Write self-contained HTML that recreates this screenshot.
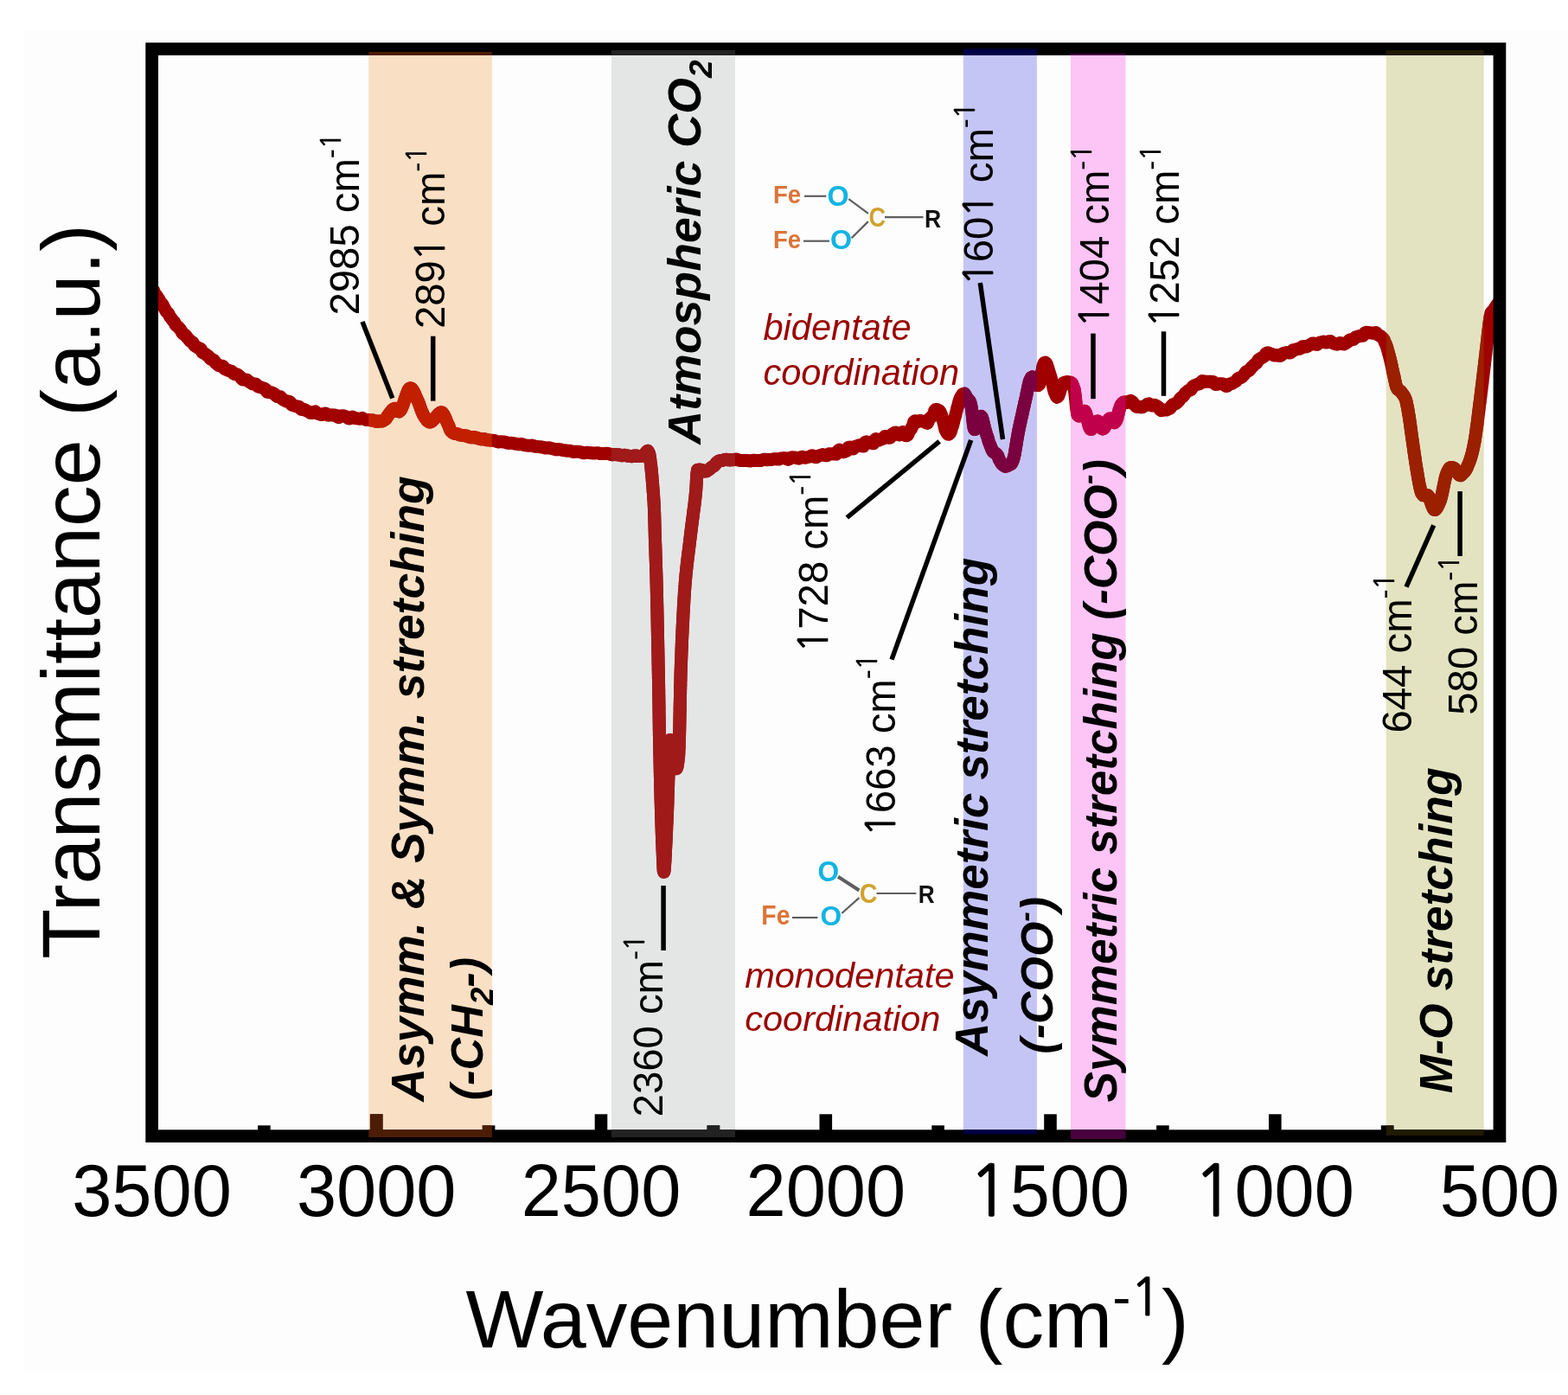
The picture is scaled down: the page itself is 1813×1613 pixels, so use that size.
<!DOCTYPE html>
<html><head><meta charset="utf-8"><style>
html,body{margin:0;padding:0;background:#fff;overflow:hidden;}
svg{display:block;}
.r{font-family:"Liberation Sans",Arial,sans-serif;fill:#000;}
.bi{font-family:"Liberation Sans",Arial,sans-serif;font-style:italic;font-weight:bold;fill:#000;}
.it{font-family:"Liberation Sans",Arial,sans-serif;font-style:italic;font-weight:normal;fill:#000;}
.ci{font-family:"Liberation Sans",Arial,sans-serif;font-style:italic;fill:#9a0000;}
.chem{font-family:"Liberation Sans",Arial,sans-serif;font-weight:bold;}
</style></head><body>
<svg width="1813" height="1613" viewBox="0 0 1813 1613">
<defs>
<clipPath id="cb0"><rect x="426.2" y="0" width="142.6" height="1613"/></clipPath>
<clipPath id="cb1"><rect x="707.0" y="0" width="143.0" height="1613"/></clipPath>
<clipPath id="cb2"><rect x="1113.8" y="0" width="85.1" height="1613"/></clipPath>
<clipPath id="cb3"><rect x="1238.0" y="0" width="63.5" height="1613"/></clipPath>
<clipPath id="cb4"><rect x="1602.7" y="0" width="113.0" height="1613"/></clipPath>
<clipPath id="plot"><rect x="176" y="50" width="1558" height="1270"/></clipPath>
<path id="crv" d="M171.8,328.1 L172.2,328.9 L172.8,329.8 L173.6,330.9 L174.4,332.0 L175.3,333.3 L176.5,334.5 L177.6,335.9 L178.2,337.6 L179.0,339.3 L180.1,340.7 L181.2,342.1 L182.1,343.6 L183.0,345.0 L183.9,346.2 L184.5,347.7 L185.2,349.1 L186.3,350.4 L187.5,351.5 L188.4,352.8 L189.1,354.3 L189.8,355.8 L190.6,357.2 L191.3,358.6 L192.1,359.9 L193.2,361.0 L194.3,362.0 L195.1,363.2 L195.8,364.8 L196.6,366.3 L197.6,367.5 L198.5,368.8 L199.4,370.1 L200.5,371.2 L201.5,372.2 L202.2,373.5 L202.7,375.0 L203.5,376.2 L204.7,377.1 L206.0,378.1 L207.1,379.2 L208.0,380.4 L209.0,381.6 L209.8,383.0 L210.4,384.5 L211.2,385.7 L212.6,386.5 L214.0,387.2 L215.0,388.2 L215.9,389.6 L216.9,390.8 L218.0,392.0 L218.9,393.2 L220.0,394.4 L221.5,395.1 L222.8,395.9 L223.6,397.2 L224.3,398.8 L225.4,400.0 L226.9,400.8 L228.3,401.7 L229.7,402.5 L231.3,403.1 L232.5,404.1 L233.2,405.8 L234.0,407.4 L235.4,408.3 L237.0,408.9 L238.3,409.9 L239.5,410.9 L240.9,411.9 L242.0,413.1 L242.9,414.5 L244.1,415.5 L245.9,415.9 L247.4,416.7 L248.3,418.1 L249.2,419.5 L250.4,420.6 L251.6,421.6 L252.8,422.6 L254.3,423.0 L256.3,422.9 L257.8,423.5 L258.7,425.1 L259.8,426.5 L261.2,427.1 L262.7,427.7 L264.2,428.4 L265.8,428.8 L267.4,429.1 L268.7,430.1 L269.7,431.7 L271.1,432.5 L272.9,432.6 L274.6,433.0 L275.8,434.1 L277.2,435.2 L278.4,436.3 L279.4,437.8 L280.7,439.0 L282.6,439.1 L284.5,438.9 L285.9,439.5 L287.1,440.7 L288.3,441.6 L289.7,442.3 L290.9,443.3 L292.3,444.0 L294.0,443.9 L295.8,444.0 L297.0,445.2 L298.0,446.7 L299.4,447.4 L301.1,447.7 L302.7,448.2 L304.2,448.8 L305.8,449.2 L307.1,450.2 L308.0,451.9 L309.0,453.4 L310.7,453.6 L312.6,453.5 L314.1,453.9 L315.5,454.7 L317.0,455.3 L318.2,456.2 L319.2,457.6 L320.5,458.6 L322.3,458.6 L324.1,458.8 L325.2,459.8 L326.1,461.0 L327.2,461.9 L328.5,462.6 L329.8,463.4 L331.4,464.1 L333.5,464.1 L335.5,464.8 L336.2,466.2 L337.0,467.7 L338.2,468.5 L339.7,468.8 L341.2,469.3 L342.8,469.8 L344.6,469.9 L346.2,470.5 L347.3,472.2 L348.5,473.5 L350.3,473.6 L352.1,473.6 L353.6,474.4 L355.0,475.2 L356.4,475.7 L357.8,476.6 L359.2,477.6 L360.9,477.5 L362.7,476.4 L364.4,475.9 L365.8,476.9 L367.2,478.1 L368.7,478.6 L370.2,479.1 L371.7,479.6 L373.3,479.2 L375.0,478.1 L376.6,477.9 L378.0,479.1 L379.4,480.2 L381.0,480.1 L382.7,479.8 L384.2,480.0 L385.8,480.1 L387.4,479.9 L388.9,480.5 L390.2,482.0 L391.7,482.7 L393.4,481.8 L395.1,480.7 L396.6,480.7 L398.1,481.2 L399.6,481.5 L401.1,482.3 L402.6,483.6 L404.2,484.0 L406.0,482.9 L407.7,482.1 L409.3,482.8 L410.8,483.6 L412.4,483.8 L414.0,483.9 L415.5,484.3 L417.1,484.0 L418.7,483.4 L420.0,484.2 L421.7,484.8 L423.3,485.5 L425.0,485.6 L426.6,485.6 L428.3,485.8 L429.8,485.9 L431.3,486.0 L432.7,486.4 L434.0,487.0 L435.3,487.4 L436.5,487.4 L438.7,487.0 L440.3,487.1 L441.8,487.0 L443.1,486.4 L444.8,485.4 L445.8,484.6 L446.8,483.4 L447.6,482.0 L448.6,480.5 L449.7,479.0 L450.8,477.5 L451.9,476.1 L452.9,474.8 L453.8,473.8 L454.7,473.0 L456.5,472.4 L458.1,473.8 L459.5,475.4 L461.2,476.0 L463.0,474.6 L463.5,473.8 L464.1,472.7 L464.7,471.4 L465.2,470.0 L465.9,468.4 L466.5,466.6 L467.1,464.8 L467.7,462.9 L468.3,461.0 L469.0,459.2 L469.6,457.3 L470.3,455.6 L470.9,454.0 L471.4,452.5 L472.0,451.2 L472.6,450.2 L473.2,449.4 L473.8,449.0 L474.7,448.8 L475.6,449.1 L476.4,449.9 L477.3,451.1 L478.2,452.6 L479.1,454.2 L479.9,456.0 L480.6,457.9 L481.4,459.8 L482.2,461.5 L482.9,463.0 L483.6,464.4 L484.3,466.0 L484.8,467.6 L485.4,469.2 L485.9,470.9 L486.5,472.5 L487.1,474.1 L487.7,475.6 L488.3,477.0 L488.9,478.4 L489.5,479.6 L490.5,481.4 L491.7,483.1 L492.8,484.6 L493.8,486.1 L495.0,487.3 L496.3,487.9 L497.8,487.9 L498.9,487.4 L500.0,486.4 L501.2,485.1 L502.6,483.7 L504.2,482.2 L505.5,480.6 L506.7,479.1 L508.0,478.0 L509.1,477.1 L510.2,476.7 L511.4,477.2 L512.2,478.3 L513.1,479.6 L513.9,481.1 L514.8,482.8 L515.5,484.7 L516.2,486.5 L516.9,488.1 L517.5,489.5 L518.3,491.1 L519.0,492.7 L519.5,494.2 L520.1,495.7 L520.6,497.1 L521.4,498.4 L522.5,499.5 L523.5,500.3 L524.5,500.9 L525.6,501.3 L526.8,501.5 L528.2,501.6 L529.7,502.1 L531.3,502.9 L533.4,503.2 L535.8,503.4 L536.9,503.7 L538.0,503.9 L539.2,504.1 L540.4,504.4 L541.6,504.9 L542.9,505.5 L544.2,505.8 L545.7,505.7 L547.2,505.5 L548.6,505.7 L550.1,506.1 L551.6,506.5 L553.2,506.9 L554.8,507.5 L556.4,507.8 L558.1,507.7 L559.9,507.7 L561.6,508.2 L563.4,508.7 L565.2,508.9 L567.0,509.1 L568.9,509.3 L570.2,509.3 L571.5,509.4 L572.8,509.8 L574.1,510.5 L575.5,510.9 L576.9,510.9 L578.3,510.8 L579.8,510.8 L581.3,510.9 L582.8,511.0 L584.3,511.2 L585.7,511.8 L587.2,512.3 L588.8,512.4 L590.4,512.2 L592.0,512.4 L593.5,512.7 L595.1,513.0 L596.7,513.2 L598.2,513.5 L599.8,513.8 L601.5,513.6 L603.1,513.5 L604.6,513.9 L606.2,514.6 L607.7,514.9 L609.3,515.1 L610.9,515.2 L612.5,515.3 L614.1,515.1 L615.6,515.1 L617.1,515.6 L618.6,516.2 L620.1,516.5 L621.6,516.4 L623.2,516.6 L624.7,516.8 L626.3,517.0 L627.9,517.2 L629.4,517.7 L631.0,518.1 L632.6,518.0 L634.3,517.8 L635.9,518.0 L637.4,518.4 L639.0,518.8 L640.5,519.2 L642.1,519.7 L643.7,519.9 L645.3,519.6 L646.9,519.5 L648.5,519.8 L649.9,520.4 L651.5,520.7 L653.0,520.8 L654.5,521.0 L656.0,521.2 L657.4,521.2 L658.9,521.2 L660.3,521.6 L661.6,522.2 L663.0,522.5 L664.3,522.4 L665.7,522.2 L667.0,522.2 L668.2,522.3 L670.1,522.5 L671.9,522.8 L673.7,523.5 L675.4,523.8 L677.0,523.5 L678.7,523.2 L680.2,523.4 L681.7,523.6 L683.2,523.7 L684.6,523.8 L686.0,524.0 L687.4,524.1 L688.8,523.9 L690.2,523.7 L691.6,523.8 L692.9,524.3 L694.3,524.6 L695.7,524.6 L697.1,524.6 L698.5,524.6 L700.0,524.5 L701.6,524.3 L703.2,524.4 L704.8,524.9 L706.3,525.5 L708.0,525.7 L709.6,525.5 L711.3,525.6 L712.9,525.7 L714.6,525.8 L716.1,526.0 L717.7,526.5 L719.2,526.7 L720.8,526.5 L722.3,526.3 L723.7,526.6 L725.1,527.0 L726.4,527.2 L727.7,527.3 L728.9,527.5 L730.0,527.7 L732.3,527.4 L734.3,526.9 L736.0,527.0 L737.5,527.4 L738.9,527.5 L740.2,527.4 L741.4,527.2 L742.5,527.0 L743.7,526.8 L745.7,524.9 L747.7,522.3 L749.0,521.3 L750.5,524.2 L750.7,525.0 L750.9,525.8 L751.1,526.8 L751.2,527.8 L751.4,528.9 L751.6,530.1 L751.8,531.4 L751.9,532.7 L752.1,534.1 L752.3,535.6 L752.5,537.1 L752.7,538.6 L752.8,540.2 L753.0,541.8 L753.2,543.5 L753.3,545.2 L753.5,546.9 L753.7,548.7 L753.8,550.4 L754.0,552.2 L754.1,554.0 L754.3,555.8 L754.4,557.5 L754.6,559.3 L754.7,561.1 L754.8,562.9 L755.0,564.6 L755.1,566.3 L755.2,568.0 L755.4,569.7 L755.5,571.3 L755.6,572.9 L755.7,574.4 L755.8,575.9 L755.9,577.4 L756.0,578.9 L756.1,580.4 L756.2,581.8 L756.2,583.3 L756.3,584.7 L756.4,586.2 L756.4,587.6 L756.5,589.1 L756.5,590.5 L756.6,592.0 L756.7,593.4 L756.7,594.8 L756.7,596.3 L756.8,597.7 L756.8,599.2 L756.9,600.6 L756.9,602.1 L756.9,603.6 L757.0,605.1 L757.0,606.6 L757.1,608.1 L757.1,609.6 L757.1,611.1 L757.2,612.7 L757.2,614.2 L757.3,615.8 L757.3,617.4 L757.3,619.0 L757.4,620.7 L757.4,622.3 L757.5,624.0 L757.5,625.4 L757.6,626.7 L757.6,628.0 L757.7,629.4 L757.7,630.7 L757.8,632.0 L757.8,633.4 L757.9,634.7 L757.9,636.0 L758.0,637.4 L758.0,638.7 L758.0,640.0 L758.1,641.4 L758.1,642.7 L758.2,644.1 L758.2,645.4 L758.3,646.8 L758.3,648.2 L758.4,649.6 L758.4,651.0 L758.5,652.4 L758.5,653.9 L758.5,655.3 L758.6,656.8 L758.6,658.3 L758.7,659.8 L758.7,661.4 L758.8,663.0 L758.8,664.5 L758.9,666.2 L758.9,667.8 L759.0,669.5 L759.0,671.2 L759.1,672.9 L759.1,674.7 L759.2,676.5 L759.2,678.3 L759.3,680.2 L759.3,682.1 L759.4,684.0 L759.4,686.0 L759.4,687.2 L759.5,688.5 L759.5,689.7 L759.5,691.0 L759.6,692.3 L759.6,693.7 L759.6,695.0 L759.6,696.4 L759.7,697.8 L759.7,699.2 L759.7,700.6 L759.8,702.1 L759.8,703.5 L759.8,705.0 L759.9,706.5 L759.9,708.0 L759.9,709.6 L760.0,711.1 L760.0,712.6 L760.0,714.2 L760.1,715.8 L760.1,717.3 L760.1,718.9 L760.2,720.5 L760.2,722.1 L760.2,723.8 L760.3,725.4 L760.3,727.0 L760.3,728.6 L760.4,730.3 L760.4,731.9 L760.4,733.5 L760.5,735.2 L760.5,736.8 L760.5,738.5 L760.6,740.1 L760.6,741.7 L760.6,743.4 L760.7,745.0 L760.7,746.6 L760.7,748.3 L760.8,749.9 L760.8,751.5 L760.8,753.1 L760.9,754.7 L760.9,756.3 L760.9,757.9 L761.0,759.5 L761.0,761.1 L761.0,762.6 L761.0,764.2 L761.1,765.7 L761.1,767.2 L761.1,768.7 L761.2,770.2 L761.2,771.7 L761.2,773.2 L761.2,774.6 L761.3,776.0 L761.3,777.5 L761.3,778.8 L761.4,780.2 L761.4,781.6 L761.4,782.9 L761.4,784.2 L761.5,785.5 L761.5,786.8 L761.5,788.0 L761.5,789.9 L761.6,791.8 L761.6,793.6 L761.6,795.5 L761.7,797.2 L761.7,799.0 L761.7,800.7 L761.7,802.3 L761.8,804.0 L761.8,805.6 L761.8,807.2 L761.8,808.8 L761.9,810.3 L761.9,811.8 L761.9,813.3 L761.9,814.8 L762.0,816.3 L762.0,817.7 L762.0,819.2 L762.0,820.6 L762.0,822.0 L762.0,823.4 L762.1,824.8 L762.1,826.2 L762.1,827.5 L762.1,828.9 L762.1,830.3 L762.2,831.6 L762.2,833.0 L762.2,834.4 L762.2,835.8 L762.2,837.1 L762.3,838.5 L762.3,839.9 L762.3,841.3 L762.3,842.7 L762.3,844.1 L762.4,845.6 L762.4,847.0 L762.4,848.5 L762.4,850.0 L762.5,851.5 L762.5,853.0 L762.5,854.5 L762.6,856.0 L762.6,857.5 L762.6,859.0 L762.6,860.6 L762.7,862.1 L762.7,863.6 L762.7,865.2 L762.8,866.7 L762.8,868.2 L762.8,869.8 L762.9,871.3 L762.9,872.9 L762.9,874.4 L763.0,876.0 L763.0,877.5 L763.0,879.1 L763.1,880.6 L763.1,882.2 L763.1,883.7 L763.2,885.3 L763.2,886.8 L763.2,888.4 L763.3,889.9 L763.3,891.5 L763.3,893.0 L763.4,894.5 L763.4,896.1 L763.4,897.6 L763.5,899.1 L763.5,900.7 L763.5,902.2 L763.6,903.7 L763.6,905.2 L763.7,906.7 L763.7,908.2 L763.7,909.7 L763.8,911.2 L763.8,912.7 L763.8,914.2 L763.9,915.6 L763.9,917.1 L764.0,918.6 L764.0,920.0 L764.0,921.6 L764.1,923.2 L764.1,924.8 L764.2,926.4 L764.2,928.1 L764.3,929.7 L764.3,931.3 L764.4,933.0 L764.4,934.6 L764.5,936.3 L764.5,937.9 L764.6,939.6 L764.6,941.2 L764.7,942.8 L764.7,944.5 L764.8,946.1 L764.8,947.7 L764.9,949.3 L764.9,950.9 L765.0,952.5 L765.0,954.1 L765.1,955.6 L765.1,957.2 L765.2,958.7 L765.2,960.2 L765.3,961.7 L765.3,963.2 L765.4,964.6 L765.4,966.1 L765.5,967.5 L765.5,968.9 L765.6,970.2 L765.6,971.6 L765.7,972.9 L765.7,974.1 L765.8,975.4 L765.8,976.6 L765.9,977.8 L765.9,978.9 L766.0,980.0 L766.1,982.5 L766.2,985.0 L766.3,987.5 L766.4,990.0 L766.5,992.5 L766.6,994.9 L766.7,997.2 L766.8,999.4 L766.9,1001.4 L767.0,1003.3 L767.1,1004.9 L767.2,1006.2 L767.3,1007.2 L767.5,1007.9 L767.6,1008.3 L767.7,1008.3 L767.8,1007.9 L768.0,1007.0 L768.1,1006.5 L768.1,1005.9 L768.2,1005.2 L768.3,1004.5 L768.3,1003.6 L768.4,1002.7 L768.5,1001.7 L768.6,1000.6 L768.6,999.5 L768.7,998.3 L768.8,997.0 L768.9,995.7 L769.0,994.3 L769.0,992.9 L769.1,991.4 L769.2,989.9 L769.3,988.3 L769.4,986.7 L769.5,985.0 L769.5,983.3 L769.6,981.6 L769.7,979.8 L769.8,978.0 L769.9,976.2 L770.0,974.4 L770.1,972.6 L770.2,970.7 L770.2,968.8 L770.3,967.0 L770.4,965.1 L770.5,963.2 L770.6,961.3 L770.7,959.4 L770.7,957.6 L770.8,955.7 L770.9,953.9 L771.0,952.1 L771.1,950.2 L771.1,948.5 L771.2,946.7 L771.3,945.0 L771.4,943.3 L771.4,941.6 L771.5,940.0 L771.6,938.5 L771.6,937.1 L771.7,935.5 L771.7,934.0 L771.8,932.4 L771.9,930.8 L771.9,929.2 L772.0,927.6 L772.0,925.9 L772.1,924.3 L772.1,922.6 L772.2,920.9 L772.2,919.2 L772.3,917.4 L772.4,915.7 L772.4,914.0 L772.5,912.3 L772.5,910.5 L772.6,908.8 L772.6,907.0 L772.7,905.3 L772.7,903.6 L772.8,901.9 L772.8,900.2 L772.9,898.5 L772.9,896.8 L773.0,895.1 L773.0,893.5 L773.1,891.8 L773.1,890.2 L773.2,888.6 L773.2,887.1 L773.3,885.5 L773.3,884.0 L773.4,882.5 L773.4,881.1 L773.4,879.7 L773.5,878.3 L773.5,877.0 L773.6,875.6 L773.6,874.4 L773.7,873.2 L773.7,872.0 L773.8,870.9 L773.8,869.8 L773.9,868.8 L773.9,867.8 L774.0,866.9 L774.0,866.0 L774.4,859.6 L774.7,856.2 L775.0,855.4 L775.4,856.1 L776.0,858.0 L776.2,858.7 L776.4,859.6 L776.6,860.8 L776.8,862.2 L777.1,863.7 L777.3,865.4 L777.6,867.2 L777.9,869.1 L778.2,871.0 L778.4,873.0 L778.7,875.0 L779.0,876.9 L779.3,878.8 L779.6,880.6 L779.8,882.3 L780.1,883.8 L780.3,885.2 L780.6,886.4 L780.8,887.3 L781.0,888.0 L781.9,888.8 L782.4,888.4 L783.0,886.4 L783.5,883.4 L784.0,880.0 L784.1,879.1 L784.2,878.2 L784.3,877.3 L784.4,876.4 L784.5,875.5 L784.6,874.6 L784.7,873.6 L784.7,872.5 L784.8,871.4 L784.9,870.1 L784.9,868.7 L785.0,867.1 L785.1,865.3 L785.2,863.3 L785.2,861.1 L785.3,858.7 L785.4,856.0 L785.5,853.0 L785.5,852.0 L785.6,850.9 L785.6,849.9 L785.6,848.8 L785.6,847.6 L785.7,846.4 L785.7,845.2 L785.7,844.0 L785.8,842.7 L785.8,841.4 L785.8,840.1 L785.8,838.8 L785.9,837.4 L785.9,836.0 L785.9,834.6 L786.0,833.2 L786.0,831.7 L786.0,830.2 L786.0,828.7 L786.1,827.2 L786.1,825.7 L786.1,824.1 L786.2,822.6 L786.2,821.0 L786.2,819.4 L786.2,817.8 L786.3,816.2 L786.3,814.6 L786.3,812.9 L786.4,811.3 L786.4,809.6 L786.4,808.0 L786.5,806.3 L786.5,804.6 L786.5,803.0 L786.6,801.3 L786.6,799.6 L786.6,797.9 L786.7,796.2 L786.7,794.6 L786.8,792.9 L786.8,791.2 L786.8,789.5 L786.9,787.9 L786.9,786.2 L787.0,784.5 L787.0,782.9 L787.0,781.3 L787.1,779.6 L787.1,778.0 L787.2,776.4 L787.2,774.8 L787.3,773.2 L787.3,771.6 L787.4,770.1 L787.4,768.5 L787.5,767.0 L787.6,765.5 L787.6,764.0 L787.7,762.5 L787.7,761.0 L787.8,759.4 L787.8,757.9 L787.9,756.3 L788.0,754.8 L788.0,753.2 L788.1,751.7 L788.1,750.1 L788.2,748.5 L788.3,747.0 L788.3,745.4 L788.4,743.8 L788.5,742.2 L788.5,740.6 L788.6,739.0 L788.7,737.5 L788.7,735.9 L788.8,734.3 L788.9,732.7 L789.0,731.1 L789.0,729.5 L789.1,727.9 L789.2,726.3 L789.2,724.8 L789.3,723.2 L789.4,721.6 L789.5,720.1 L789.6,718.5 L789.6,716.9 L789.7,715.4 L789.8,713.8 L789.9,712.3 L789.9,710.8 L790.0,709.3 L790.1,707.7 L790.2,706.2 L790.3,704.7 L790.3,703.3 L790.4,701.8 L790.5,700.3 L790.6,698.9 L790.7,697.4 L790.8,696.0 L790.8,694.6 L790.9,693.2 L791.0,691.8 L791.1,690.4 L791.2,689.1 L791.3,687.7 L791.4,686.4 L791.4,685.1 L791.5,683.8 L791.6,682.5 L791.7,681.2 L791.8,680.0 L791.9,678.1 L792.1,676.2 L792.2,674.4 L792.4,672.6 L792.5,670.8 L792.7,669.1 L792.8,667.4 L793.0,665.7 L793.1,664.1 L793.3,662.5 L793.5,660.9 L793.6,659.3 L793.8,657.8 L793.9,656.3 L794.1,654.8 L794.3,653.3 L794.4,651.8 L794.6,650.4 L794.8,648.9 L794.9,647.5 L795.1,646.1 L795.3,644.7 L795.4,643.3 L795.6,642.0 L795.8,640.6 L795.9,639.2 L796.1,637.8 L796.3,636.5 L796.5,635.1 L796.6,633.7 L796.8,632.4 L797.0,631.0 L797.1,629.6 L797.3,628.2 L797.5,626.8 L797.6,625.4 L797.8,624.0 L798.0,622.4 L798.2,620.8 L798.4,619.2 L798.6,617.5 L798.8,615.9 L799.0,614.3 L799.2,612.7 L799.4,611.0 L799.6,609.4 L799.8,607.8 L800.0,606.2 L800.2,604.6 L800.4,603.0 L800.6,601.4 L800.8,599.8 L801.1,598.2 L801.3,596.6 L801.4,595.1 L801.6,593.5 L801.8,592.0 L802.0,590.5 L802.2,589.1 L802.4,587.6 L802.6,586.2 L802.8,584.7 L803.0,583.3 L803.1,582.0 L803.3,580.6 L803.4,579.3 L803.6,578.1 L803.7,576.8 L803.9,575.6 L804.0,574.4 L804.2,572.3 L804.4,570.3 L804.6,568.3 L804.7,566.4 L804.9,564.5 L805.0,562.8 L805.1,561.1 L805.2,559.4 L805.3,557.8 L805.3,556.4 L805.4,554.9 L805.5,553.6 L805.6,552.3 L805.6,551.1 L805.7,550.0 L805.8,548.9 L805.9,547.9 L806.0,547.0 L806.6,543.2 L808.0,543.2 L809.3,543.1 L811.1,543.4 L813.0,544.2 L814.9,545.1 L816.8,544.9 L818.0,544.1 L819.2,543.3 L820.5,542.4 L821.7,541.3 L822.9,540.3 L824.3,539.4 L825.6,538.6 L826.7,537.5 L827.6,536.2 L828.6,535.0 L829.8,534.0 L831.2,533.1 L833.0,532.5 L834.2,532.4 L835.5,532.3 L836.9,531.9 L838.4,531.4 L840.0,531.3 L841.7,531.7 L843.4,531.9 L845.1,531.8 L846.7,531.8 L848.4,531.6 L850.0,531.2 L851.5,531.1 L853.0,531.5 L854.3,532.1 L855.7,532.4 L857.1,532.4 L858.6,532.4 L860.1,532.5 L861.8,532.5 L863.6,532.4 L865.6,532.8 L867.8,533.0 L869.0,532.7 L870.3,532.4 L871.6,532.2 L873.0,532.4 L874.5,532.4 L876.0,532.4 L877.5,532.5 L879.1,532.6 L880.7,532.2 L882.3,531.5 L883.9,531.3 L885.6,531.5 L887.3,531.7 L889.0,531.6 L890.7,531.5 L892.3,531.4 L893.9,530.9 L895.6,530.6 L897.2,530.8 L898.8,531.0 L900.3,531.1 L901.8,530.3 L903.4,529.9 L905.0,529.8 L906.6,529.6 L908.2,529.8 L909.8,530.9 L911.4,531.4 L912.9,530.5 L914.4,529.2 L915.9,528.8 L917.4,529.0 L918.9,529.1 L920.5,529.2 L922.0,529.9 L923.6,530.2 L925.1,529.5 L926.5,528.4 L928.0,528.3 L929.6,529.0 L931.2,529.2 L932.7,528.8 L934.3,528.5 L935.8,528.2 L937.3,527.5 L938.8,526.7 L940.4,527.2 L942.0,528.4 L943.7,528.8 L945.1,528.0 L946.6,527.2 L948.1,526.7 L949.6,526.2 L951.1,525.6 L952.7,526.0 L954.4,526.8 L956.0,526.8 L957.4,525.7 L958.9,524.8 L960.4,524.7 L962.1,525.1 L963.7,524.8 L965.2,524.9 L966.9,525.2 L968.2,523.9 L969.1,521.2 L970.4,520.1 L972.4,521.4 L974.5,522.7 L976.1,522.5 L977.6,521.9 L979.1,521.3 L980.2,519.6 L981.1,517.4 L982.7,517.1 L984.8,518.4 L986.6,518.9 L987.8,517.7 L988.9,516.3 L990.3,515.9 L991.7,515.6 L992.9,514.9 L994.3,514.7 L996.5,515.8 L998.3,516.0 L999.3,513.7 L1000.2,511.3 L1001.7,510.8 L1003.4,511.4 L1005.0,511.6 L1006.6,511.8 L1008.3,512.5 L1009.9,512.7 L1010.9,511.0 L1011.6,508.6 L1012.8,507.6 L1014.6,508.3 L1016.3,509.0 L1017.7,508.4 L1019.1,507.6 L1020.7,507.3 L1022.1,506.2 L1023.3,504.5 L1025.2,504.7 L1027.6,506.3 L1029.3,506.0 L1030.2,503.7 L1031.4,502.1 L1032.9,501.3 L1034.2,500.4 L1035.7,500.1 L1037.4,501.2 L1039.1,502.6 L1040.3,502.9 L1040.8,502.0 L1043.6,499.6 L1045.0,501.5 L1046.0,503.0 L1047.0,503.7 L1048.7,503.7 L1049.6,503.0 L1050.2,501.9 L1050.6,500.4 L1051.1,498.8 L1052.3,497.4 L1053.5,496.0 L1054.3,494.3 L1055.1,492.6 L1055.8,490.9 L1056.2,489.2 L1056.7,487.6 L1058.0,486.7 L1059.6,486.9 L1061.1,487.8 L1062.1,486.9 L1063.8,486.3 L1065.3,486.9 L1067.0,487.3 L1068.6,487.4 L1070.1,488.7 L1072.3,489.4 L1073.1,487.8 L1073.4,485.9 L1074.2,484.5 L1075.8,483.3 L1077.2,481.9 L1078.5,480.4 L1079.8,478.9 L1080.4,477.0 L1080.6,474.9 L1081.7,473.6 L1083.4,473.5 L1084.6,474.3 L1085.3,474.6 L1086.0,474.8 L1086.7,475.5 L1087.3,476.7 L1087.9,478.2 L1088.6,479.8 L1089.2,481.7 L1089.6,483.7 L1090.2,485.8 L1090.8,488.0 L1091.4,490.1 L1091.9,492.2 L1092.3,494.3 L1092.7,496.3 L1093.4,498.0 L1094.2,499.4 L1094.9,500.6 L1095.5,501.5 L1096.0,502.0 L1096.4,502.2 L1096.8,502.2 L1097.3,502.0 L1097.8,501.5 L1098.4,500.9 L1099.0,500.0 L1099.4,498.9 L1099.8,497.6 L1100.1,496.2 L1100.6,494.7 L1101.3,493.2 L1101.8,491.5 L1102.2,489.7 L1102.7,487.9 L1103.1,486.0 L1103.6,484.0 L1104.2,482.1 L1104.9,480.2 L1105.2,478.2 L1105.7,476.2 L1106.2,474.3 L1106.6,472.4 L1107.1,470.6 L1107.7,468.8 L1108.1,467.1 L1108.5,465.5 L1108.9,464.0 L1109.4,462.6 L1109.9,461.4 L1110.3,460.2 L1110.7,459.3 L1111.1,458.6 L1113.0,455.8 L1115.2,455.0 L1116.5,457.2 L1117.6,459.5 L1118.8,461.1 L1119.8,462.0 L1120.5,462.9 L1121.3,464.0 L1121.9,465.4 L1122.4,467.4 L1123.0,470.0 L1123.2,471.1 L1123.4,472.4 L1123.6,474.0 L1123.8,475.6 L1124.0,477.4 L1124.2,479.3 L1124.4,481.2 L1124.6,483.1 L1124.8,485.1 L1125.0,487.0 L1125.2,488.8 L1125.4,490.5 L1125.7,492.1 L1125.9,493.5 L1126.1,494.8 L1126.4,495.8 L1126.8,496.5 L1127.2,496.6 L1127.2,496.6 L1128.0,496.2 L1128.7,494.8 L1129.4,492.9 L1130.0,490.7 L1130.7,488.3 L1131.3,486.0 L1132.1,484.0 L1132.9,482.4 L1133.7,481.6 L1134.0,481.5 L1134.4,481.4 L1135.0,482.0 L1135.5,482.9 L1135.9,484.2 L1136.4,485.7 L1136.8,487.4 L1137.2,489.2 L1137.6,491.0 L1138.1,492.9 L1138.6,494.8 L1139.0,496.7 L1139.5,498.4 L1140.0,500.0 L1140.4,501.4 L1140.9,502.9 L1141.5,504.5 L1142.0,506.0 L1142.5,507.6 L1142.9,509.3 L1143.4,510.8 L1144.0,512.4 L1144.5,513.9 L1145.1,515.3 L1145.6,516.6 L1146.2,517.8 L1146.6,519.0 L1146.9,520.0 L1148.1,522.2 L1149.6,523.2 L1150.8,523.9 L1151.9,524.7 L1153.0,526.0 L1153.8,527.3 L1154.4,528.8 L1155.0,530.4 L1155.7,532.0 L1156.6,533.5 L1157.3,534.8 L1158.0,536.0 L1159.3,537.4 L1160.9,538.5 L1162.7,539.3 L1164.5,538.8 L1165.8,537.7 L1166.8,537.3 L1168.0,537.1 L1169.3,536.4 L1170.2,534.9 L1171.1,532.8 L1172.0,530.0 L1172.3,529.0 L1172.5,527.9 L1172.8,526.7 L1173.1,525.5 L1173.4,524.2 L1173.6,522.8 L1173.8,521.3 L1174.1,519.8 L1174.3,518.3 L1174.6,516.7 L1174.8,515.1 L1175.1,513.5 L1175.4,511.8 L1175.6,510.1 L1175.9,508.4 L1176.2,506.7 L1176.5,505.0 L1176.8,503.3 L1177.1,501.7 L1177.4,500.0 L1177.7,498.6 L1177.9,497.2 L1178.3,495.7 L1178.6,494.3 L1178.9,492.7 L1179.2,491.2 L1179.5,489.7 L1179.9,488.1 L1180.2,486.6 L1180.5,485.0 L1180.9,483.4 L1181.3,481.8 L1181.6,480.3 L1182.0,478.7 L1182.3,477.1 L1182.6,475.6 L1183.0,474.0 L1183.3,472.5 L1183.7,471.0 L1184.0,469.6 L1184.4,468.1 L1184.6,466.7 L1184.9,465.3 L1185.3,464.0 L1185.7,462.2 L1186.1,460.4 L1186.5,458.5 L1186.9,456.6 L1187.2,454.8 L1187.6,452.9 L1188.0,451.1 L1188.4,449.3 L1188.8,447.5 L1189.1,445.8 L1189.5,444.3 L1189.8,442.8 L1190.2,441.4 L1190.6,440.1 L1191.1,439.1 L1191.6,438.1 L1192.0,437.4 L1192.3,436.7 L1193.4,436.0 L1194.6,437.2 L1195.6,439.1 L1196.6,441.4 L1197.6,443.7 L1198.8,445.5 L1200.2,445.7 L1200.6,445.4 L1201.2,445.2 L1201.8,444.3 L1202.2,443.1 L1202.6,441.6 L1203.0,439.9 L1203.4,438.0 L1203.7,436.1 L1204.1,434.0 L1204.5,432.0 L1204.8,429.9 L1205.2,427.9 L1205.5,426.0 L1205.9,424.2 L1206.2,422.6 L1206.6,421.3 L1207.0,420.2 L1207.5,419.4 L1208.1,419.4 L1208.2,419.5 L1208.8,419.2 L1209.6,419.9 L1210.4,421.2 L1211.0,422.9 L1211.6,424.8 L1212.2,426.8 L1212.8,428.9 L1213.5,431.0 L1214.1,432.9 L1214.6,434.7 L1215.0,436.2 L1215.5,437.7 L1215.9,439.4 L1216.3,441.1 L1216.7,442.8 L1217.1,444.6 L1217.5,446.3 L1217.8,448.0 L1218.2,449.6 L1218.5,451.1 L1218.9,452.4 L1219.3,453.6 L1219.7,454.6 L1221.0,457.6 L1222.1,459.4 L1223.8,458.2 L1224.1,457.2 L1224.5,455.9 L1225.1,454.4 L1225.6,452.6 L1226.1,450.8 L1226.7,449.0 L1227.3,447.2 L1227.8,445.7 L1228.2,444.4 L1229.6,442.9 L1231.3,442.1 L1232.8,441.7 L1234.1,441.5 L1235.4,441.8 L1236.3,441.9 L1237.5,442.1 L1238.7,442.5 L1239.6,443.6 L1240.3,445.2 L1241.0,447.2 L1241.9,449.6 L1242.2,450.7 L1242.4,451.9 L1242.6,453.3 L1242.8,454.8 L1243.0,456.5 L1243.2,458.2 L1243.4,460.0 L1243.6,461.9 L1243.8,463.8 L1244.0,465.7 L1244.1,467.5 L1244.3,469.4 L1244.5,471.1 L1244.7,472.8 L1244.9,474.4 L1245.2,475.9 L1245.4,477.2 L1245.6,478.3 L1245.9,479.3 L1246.2,480.0 L1247.3,481.0 L1248.7,479.9 L1249.8,477.8 L1251.4,475.8 L1253.1,475.2 L1253.8,475.2 L1254.5,475.5 L1255.1,476.6 L1255.6,478.0 L1256.1,479.7 L1256.6,481.6 L1257.0,483.5 L1257.4,485.6 L1257.9,487.6 L1258.4,489.5 L1258.8,491.3 L1259.3,492.9 L1259.8,494.2 L1260.3,495.3 L1260.7,496.2 L1261.9,496.5 L1262.8,495.3 L1263.6,493.7 L1264.7,491.9 L1265.9,490.1 L1266.9,488.4 L1267.9,487.3 L1268.7,486.9 L1269.7,487.1 L1270.8,488.4 L1271.7,490.3 L1272.4,492.5 L1273.2,494.3 L1274.2,495.6 L1275.3,495.9 L1276.1,495.4 L1277.0,494.4 L1277.8,492.9 L1278.8,491.2 L1279.9,489.4 L1280.7,487.6 L1281.4,485.9 L1282.3,484.6 L1283.3,483.9 L1284.7,484.2 L1285.9,485.7 L1287.0,487.6 L1288.6,488.7 L1289.6,487.6 L1290.2,487.2 L1290.7,486.2 L1291.2,485.0 L1291.7,483.6 L1292.1,482.0 L1292.5,480.3 L1293.0,478.5 L1293.4,476.7 L1293.8,474.9 L1294.3,473.2 L1294.9,471.7 L1295.4,470.2 L1295.8,469.0 L1296.4,467.9 L1297.7,466.3 L1299.1,465.1 L1301.0,464.8 L1302.8,465.6 L1304.2,465.2 L1305.7,463.8 L1307.3,463.3 L1308.9,464.2 L1310.2,465.7 L1311.5,467.2 L1312.5,468.9 L1313.7,470.2 L1315.1,470.6 L1316.7,470.3 L1319.6,470.9 L1320.7,470.8 L1322.0,470.0 L1323.5,469.3 L1325.1,468.6 L1326.6,467.4 L1328.4,466.8 L1330.3,467.9 L1331.9,469.0 L1333.3,468.6 L1334.9,468.3 L1336.4,468.9 L1337.8,469.8 L1339.3,470.7 L1340.4,472.1 L1341.3,473.8 L1342.7,474.7 L1344.4,474.4 L1345.8,473.9 L1347.0,474.1 L1348.4,474.1 L1349.8,473.6 L1351.2,472.8 L1352.8,472.1 L1354.0,470.8 L1354.8,469.0 L1356.1,467.7 L1357.9,467.2 L1359.6,466.5 L1360.9,465.4 L1362.1,464.4 L1363.2,463.2 L1364.0,461.8 L1364.9,460.5 L1366.1,459.5 L1367.5,458.7 L1368.6,457.6 L1369.4,456.2 L1370.3,454.9 L1371.5,453.8 L1372.7,452.7 L1374.0,451.7 L1375.5,451.2 L1377.0,450.6 L1378.0,449.3 L1378.7,447.5 L1379.9,446.3 L1381.5,445.6 L1383.0,445.0 L1384.6,444.3 L1386.3,444.1 L1387.7,443.4 L1388.8,441.9 L1390.1,440.6 L1391.7,440.7 L1393.3,441.3 L1394.7,441.5 L1396.3,441.2 L1397.9,441.3 L1399.6,441.5 L1401.4,441.2 L1403.0,441.7 L1404.3,443.4 L1405.7,444.5 L1407.4,444.3 L1409.2,443.7 L1410.6,443.7 L1411.9,443.9 L1413.1,443.8 L1415.1,444.3 L1416.5,445.7 L1417.8,446.5 L1419.1,446.3 L1420.3,445.1 L1421.5,444.1 L1423.4,443.7 L1424.6,443.3 L1425.6,442.7 L1426.8,442.0 L1428.0,441.4 L1429.3,440.6 L1430.2,439.2 L1431.1,437.8 L1432.6,437.1 L1434.5,436.7 L1436.0,435.8 L1437.2,434.5 L1438.5,433.2 L1439.6,431.6 L1440.7,430.0 L1441.9,429.3 L1443.5,428.9 L1444.8,428.0 L1445.8,426.6 L1446.7,425.3 L1448.0,424.1 L1449.2,422.8 L1450.4,421.5 L1452.0,420.5 L1453.3,419.4 L1454.1,417.7 L1455.0,416.1 L1456.4,415.2 L1457.9,414.4 L1459.2,413.5 L1460.4,412.7 L1461.6,412.0 L1462.5,411.1 L1463.1,409.9 L1463.7,408.6 L1465.9,407.7 L1467.8,408.6 L1469.2,409.1 L1470.5,409.5 L1471.9,410.2 L1473.2,410.9 L1474.8,410.9 L1476.5,410.5 L1477.8,411.0 L1479.3,411.6 L1480.8,411.4 L1482.0,410.1 L1483.2,408.9 L1484.7,408.4 L1486.3,408.0 L1487.9,407.6 L1489.7,407.8 L1491.5,408.1 L1492.9,407.4 L1494.0,405.7 L1495.3,404.6 L1496.8,404.4 L1498.3,404.2 L1499.8,403.7 L1501.2,403.4 L1502.8,403.2 L1504.2,402.5 L1505.3,401.1 L1506.8,400.4 L1508.6,400.8 L1510.4,401.1 L1512.0,400.3 L1513.2,399.4 L1514.6,398.8 L1516.0,398.0 L1517.4,397.0 L1519.1,397.1 L1521.1,398.2 L1522.8,398.4 L1524.3,397.3 L1525.8,396.2 L1527.3,395.9 L1528.9,395.5 L1530.4,395.1 L1532.0,395.5 L1533.4,396.1 L1534.7,396.0 L1536.6,394.8 L1538.5,394.6 L1540.0,395.9 L1541.5,396.8 L1543.0,397.3 L1544.5,397.9 L1546.1,398.2 L1547.7,397.5 L1549.2,396.6 L1550.5,396.7 L1552.1,397.7 L1553.7,398.0 L1555.1,397.4 L1556.4,396.6 L1557.7,395.8 L1558.9,394.8 L1560.0,393.5 L1561.4,392.8 L1563.3,392.8 L1565.0,392.4 L1566.1,391.2 L1567.3,390.0 L1568.9,389.5 L1570.5,389.0 L1572.2,388.4 L1574.0,388.4 L1575.8,388.2 L1577.0,386.7 L1578.1,384.9 L1579.5,384.3 L1581.0,384.5 L1582.4,384.6 L1584.3,384.7 L1586.0,385.1 L1587.5,385.3 L1589.0,384.8 L1590.6,384.5 L1591.9,385.3 L1592.9,386.7 L1594.0,387.7 L1595.4,388.3 L1596.8,389.0 L1597.9,390.2 L1599.1,391.5 L1600.2,393.1 L1600.9,395.0 L1601.4,396.2 L1602.0,397.3 L1602.5,398.6 L1603.1,400.0 L1603.5,401.4 L1604.0,402.9 L1604.4,404.4 L1604.9,406.0 L1605.3,407.6 L1605.7,409.2 L1606.2,410.8 L1606.6,412.4 L1607.0,414.0 L1607.4,415.4 L1607.7,416.9 L1608.1,418.4 L1608.4,419.9 L1608.8,421.5 L1609.2,423.1 L1609.5,424.6 L1609.8,426.2 L1610.2,427.8 L1610.5,429.3 L1610.8,430.8 L1611.1,432.2 L1611.5,433.5 L1611.8,434.8 L1612.0,436.0 L1612.4,438.0 L1612.8,439.9 L1613.2,441.5 L1613.5,443.0 L1613.8,444.4 L1614.2,445.7 L1614.5,446.9 L1615.0,448.0 L1616.0,449.9 L1617.3,451.1 L1618.9,451.9 L1620.2,453.3 L1620.9,454.4 L1621.7,455.5 L1622.5,456.5 L1623.3,457.6 L1624.1,459.1 L1625.0,461.0 L1625.4,462.1 L1625.8,463.4 L1626.1,464.7 L1626.4,466.1 L1626.7,467.6 L1627.0,469.1 L1627.4,470.7 L1627.7,472.4 L1628.0,474.2 L1628.3,476.1 L1628.6,478.0 L1629.0,480.0 L1629.2,481.2 L1629.4,482.5 L1629.6,483.8 L1629.8,485.2 L1630.0,486.5 L1630.2,488.0 L1630.4,489.4 L1630.6,490.8 L1630.8,492.3 L1631.0,493.8 L1631.2,495.4 L1631.4,496.9 L1631.6,498.5 L1631.8,500.1 L1632.1,501.7 L1632.3,503.3 L1632.5,504.9 L1632.7,506.5 L1633.0,508.2 L1633.2,509.8 L1633.4,511.2 L1633.6,512.6 L1633.8,514.1 L1634.0,515.6 L1634.3,517.1 L1634.5,518.6 L1634.7,520.2 L1634.9,521.7 L1635.1,523.3 L1635.4,524.9 L1635.6,526.5 L1635.8,528.1 L1636.1,529.7 L1636.3,531.3 L1636.5,532.8 L1636.7,534.4 L1637.0,535.9 L1637.2,537.4 L1637.5,538.9 L1637.7,540.4 L1637.9,541.8 L1638.1,543.2 L1638.4,544.5 L1638.6,545.8 L1638.9,547.6 L1639.2,549.4 L1639.5,551.2 L1639.8,553.0 L1640.1,554.7 L1640.4,556.4 L1640.7,558.1 L1641.0,559.7 L1641.4,561.3 L1641.7,562.8 L1642.0,564.3 L1642.3,565.6 L1642.6,566.9 L1643.0,568.1 L1643.3,569.2 L1643.7,570.1 L1644.1,570.9 L1645.7,572.8 L1647.5,572.7 L1649.2,572.5 L1651.0,572.9 L1651.8,573.8 L1652.5,575.2 L1653.1,576.9 L1653.7,578.8 L1654.4,580.7 L1655.0,582.7 L1655.7,584.5 L1656.4,586.1 L1657.0,587.5 L1657.6,588.6 L1658.2,589.4 L1659.3,589.5 L1660.2,588.8 L1661.0,587.8 L1661.8,586.5 L1662.7,584.9 L1663.6,582.9 L1664.6,580.7 L1665.6,578.2 L1665.9,577.1 L1666.2,575.8 L1666.6,574.5 L1666.9,573.0 L1667.3,571.4 L1667.7,569.7 L1668.0,568.0 L1668.4,566.3 L1668.7,564.5 L1669.1,562.7 L1669.5,560.9 L1669.8,559.1 L1670.2,557.4 L1670.5,555.7 L1670.9,554.1 L1671.2,552.5 L1671.6,551.1 L1672.0,549.8 L1672.4,548.6 L1672.8,547.6 L1673.9,544.9 L1675.0,542.8 L1676.0,541.3 L1677.2,540.4 L1678.6,540.4 L1679.8,540.8 L1680.8,541.1 L1682.0,542.0 L1683.2,543.5 L1684.3,545.2 L1685.4,546.9 L1686.5,548.4 L1687.6,549.5 L1688.9,549.8 L1689.8,549.1 L1690.5,548.2 L1691.4,547.4 L1692.4,546.5 L1693.5,545.4 L1694.5,544.0 L1695.4,542.4 L1696.3,540.6 L1697.0,538.7 L1697.8,536.8 L1698.3,535.7 L1698.8,534.6 L1699.2,533.5 L1699.6,532.3 L1700.0,531.1 L1700.4,529.9 L1700.8,528.6 L1701.2,527.3 L1701.6,525.9 L1702.0,524.4 L1702.4,522.9 L1702.8,521.3 L1703.1,519.6 L1703.5,517.9 L1703.9,516.0 L1704.3,514.1 L1704.7,512.0 L1705.1,509.8 L1705.3,508.7 L1705.5,507.5 L1705.7,506.2 L1705.9,504.9 L1706.1,503.6 L1706.3,502.3 L1706.5,500.9 L1706.7,499.5 L1706.9,498.0 L1707.1,496.5 L1707.3,495.0 L1707.6,493.5 L1707.8,491.9 L1708.0,490.4 L1708.2,488.8 L1708.4,487.2 L1708.6,485.6 L1708.8,484.0 L1709.0,482.3 L1709.2,480.7 L1709.4,479.1 L1709.6,477.5 L1709.8,475.8 L1710.0,474.2 L1710.2,472.6 L1710.4,471.0 L1710.6,469.4 L1710.8,467.8 L1711.0,466.2 L1711.2,464.7 L1711.4,463.2 L1711.6,461.6 L1711.8,460.2 L1712.0,458.7 L1712.1,457.3 L1712.3,455.9 L1712.5,454.3 L1712.7,452.6 L1712.9,451.0 L1713.1,449.5 L1713.3,447.9 L1713.5,446.3 L1713.7,444.8 L1713.9,443.3 L1714.1,441.7 L1714.2,440.2 L1714.4,438.7 L1714.6,437.3 L1714.8,435.8 L1714.9,434.3 L1715.1,432.8 L1715.3,431.4 L1715.4,429.9 L1715.6,428.5 L1715.8,427.0 L1716.0,425.6 L1716.1,424.1 L1716.3,422.7 L1716.5,421.2 L1716.6,419.8 L1716.8,418.3 L1717.0,416.8 L1717.2,415.4 L1717.3,413.9 L1717.5,412.4 L1717.7,410.9 L1717.9,409.4 L1718.1,407.8 L1718.2,406.2 L1718.4,404.6 L1718.6,403.0 L1718.8,401.3 L1719.0,399.6 L1719.2,397.9 L1719.4,396.2 L1719.6,394.5 L1719.8,392.8 L1720.0,391.1 L1720.1,389.4 L1720.3,387.8 L1720.5,386.1 L1720.7,384.4 L1720.9,382.8 L1721.1,381.2 L1721.3,379.7 L1721.4,378.2 L1721.6,376.7 L1721.8,375.3 L1722.0,373.9 L1722.1,372.6 L1722.3,371.3 L1722.5,370.1 L1722.6,369.0 L1722.8,367.9 L1722.9,366.9 L1723.1,366.0 L1723.8,362.2 L1724.5,360.8 L1725.1,360.7 L1725.9,360.4 L1726.8,358.9 L1727.4,357.8 L1728.1,356.5 L1729.0,355.1 L1730.0,353.6 L1731.0,352.2 L1732.2,350.8 L1733.1,349.3 L1733.9,347.9 L1734.7,346.7 L1735.4,345.7 L1736.0,345.0"/>
</defs>
<rect x="0" y="0" width="1813" height="1613" fill="#ffffff"/>
<rect x="27" y="35.5" width="1786" height="1551.5" fill="#fdfdfd"/>
<rect x="426.2" y="58" width="142.6" height="1257" fill="#f9dfc4"/>
<rect x="707.0" y="58" width="143.0" height="1257" fill="#e4e6e6"/>
<rect x="1113.8" y="58" width="85.1" height="1257" fill="#c5c5f5"/>
<rect x="1238.0" y="58" width="63.5" height="1257" fill="#fdc4f6"/>
<rect x="1602.7" y="58" width="113.0" height="1257" fill="#e3e3c1"/>
<g clip-path="url(#plot)">
<use href="#crv" fill="none" stroke="#a00000" stroke-width="15" stroke-linejoin="round" stroke-linecap="round"/>
<use href="#crv" clip-path="url(#cb0)" fill="none" stroke="#c21f00" stroke-width="15" stroke-linejoin="round" stroke-linecap="round"/>
<use href="#crv" clip-path="url(#cb1)" fill="none" stroke="#a01a1a" stroke-width="15" stroke-linejoin="round" stroke-linecap="round"/>
<use href="#crv" clip-path="url(#cb2)" fill="none" stroke="#7a0040" stroke-width="15" stroke-linejoin="round" stroke-linecap="round"/>
<use href="#crv" clip-path="url(#cb3)" fill="none" stroke="#c0004a" stroke-width="15" stroke-linejoin="round" stroke-linecap="round"/>
<use href="#crv" clip-path="url(#cb4)" fill="none" stroke="#9b2000" stroke-width="15" stroke-linejoin="round" stroke-linecap="round"/>
</g>
<rect x="175.65" y="56.65" width="1558.30" height="1257.00" fill="none" stroke="#000" stroke-width="14.7"/>
<rect x="298.1" y="1301.3" width="14.6" height="6" fill="#000"/>
<rect x="427.9" y="1288.3" width="14.6" height="19" fill="#000"/>
<rect x="427.9" y="1288.3" width="14.6" height="19" fill="#4c1c05"/>
<rect x="557.8" y="1301.3" width="14.6" height="6" fill="#000"/>
<rect x="557.8" y="1301.3" width="11.0" height="6" fill="#4c1c05"/>
<rect x="687.7" y="1288.3" width="14.6" height="19" fill="#000"/>
<rect x="817.6" y="1301.3" width="14.6" height="6" fill="#000"/>
<rect x="817.6" y="1301.3" width="14.6" height="6" fill="#222222"/>
<rect x="947.5" y="1288.3" width="14.6" height="19" fill="#000"/>
<rect x="1077.3" y="1301.3" width="14.6" height="6" fill="#000"/>
<rect x="1207.2" y="1288.3" width="14.6" height="19" fill="#000"/>
<rect x="1337.1" y="1301.3" width="14.6" height="6" fill="#000"/>
<rect x="1467.0" y="1288.3" width="14.6" height="19" fill="#000"/>
<rect x="1596.8" y="1301.3" width="14.6" height="6" fill="#000"/>
<rect x="1602.7" y="1301.3" width="8.7" height="6" fill="#201a00"/>
<rect x="426.2" y="60" width="142.6" height="4.0" fill="#4c1c05"/>
<rect x="426.2" y="1306.3" width="142.6" height="8.7" fill="#4c1c05"/>
<rect x="707.0" y="58" width="143.0" height="6.0" fill="#222222"/>
<rect x="707.0" y="1306.3" width="143.0" height="8.7" fill="#222222"/>
<rect x="1113.8" y="56.4" width="85.1" height="7.6" fill="#000045"/>
<rect x="1113.8" y="1306.3" width="85.1" height="5.0" fill="#000045"/>
<rect x="1238.0" y="62" width="63.5" height="2.0" fill="#48003e"/>
<rect x="1238.0" y="1306.3" width="63.5" height="10.7" fill="#48003e"/>
<rect x="1602.7" y="58" width="113.0" height="6.0" fill="#201a00"/>
<rect x="1602.7" y="1306.3" width="113.0" height="6.7" fill="#201a00"/>
<text transform="translate(175.5,1406) scale(1,1.025)" font-size="83" text-anchor="middle" class="r">3500</text>
<text transform="translate(435.2,1406) scale(1,1.025)" font-size="83" text-anchor="middle" class="r">3000</text>
<text transform="translate(695.0,1406) scale(1,1.025)" font-size="83" text-anchor="middle" class="r">2500</text>
<text transform="translate(954.8,1406) scale(1,1.025)" font-size="83" text-anchor="middle" class="r">2000</text>
<text transform="translate(1214.5,1406) scale(1,1.025)" font-size="83" text-anchor="middle" class="r"><tspan style="font-family:NanumGothic,sans-serif" font-size="0.942em" dx="-0.0156em" stroke="#000" stroke-width="0.018em">1</tspan>500</text>
<text transform="translate(1474.2,1406) scale(1,1.025)" font-size="83" text-anchor="middle" class="r"><tspan style="font-family:NanumGothic,sans-serif" font-size="0.942em" dx="-0.0156em" stroke="#000" stroke-width="0.018em">1</tspan>000</text>
<text transform="translate(1734.0,1406) scale(1,1.025)" font-size="83" text-anchor="middle" class="r">500</text>
<text transform="translate(414.8,364.5) rotate(-90) scale(1,1.03)" font-size="47.3" class="r">2985 cm<tspan font-size="0.70em" dy="-0.6em">-<tspan style="font-family:NanumGothic,sans-serif" font-size="0.942em" dx="-0.0156em" stroke="#000" stroke-width="0.018em">1</tspan></tspan></text>
<text transform="translate(513.6,380.0) rotate(-90) scale(1,1.03)" font-size="47.3" class="r">289<tspan style="font-family:NanumGothic,sans-serif" font-size="0.942em" dx="-0.0156em" stroke="#000" stroke-width="0.018em">1</tspan> cm<tspan font-size="0.70em" dy="-0.6em">-<tspan style="font-family:NanumGothic,sans-serif" font-size="0.942em" dx="-0.0156em" stroke="#000" stroke-width="0.018em">1</tspan></tspan></text>
<text transform="translate(1147.7,329.5) rotate(-90) scale(1,1.03)" font-size="47.3" class="r"><tspan style="font-family:NanumGothic,sans-serif" font-size="0.942em" dx="-0.0156em" stroke="#000" stroke-width="0.018em">1</tspan>60<tspan style="font-family:NanumGothic,sans-serif" font-size="0.942em" dx="-0.0156em" stroke="#000" stroke-width="0.018em">1</tspan> cm<tspan font-size="0.70em" dy="-0.6em">-<tspan style="font-family:NanumGothic,sans-serif" font-size="0.942em" dx="-0.0156em" stroke="#000" stroke-width="0.018em">1</tspan></tspan></text>
<text transform="translate(1282.3,378.0) rotate(-90) scale(1,1.03)" font-size="47.3" class="r"><tspan style="font-family:NanumGothic,sans-serif" font-size="0.942em" dx="-0.0156em" stroke="#000" stroke-width="0.018em">1</tspan>404 cm<tspan font-size="0.70em" dy="-0.6em">-<tspan style="font-family:NanumGothic,sans-serif" font-size="0.942em" dx="-0.0156em" stroke="#000" stroke-width="0.018em">1</tspan></tspan></text>
<text transform="translate(1362.6,378.0) rotate(-90) scale(1,1.03)" font-size="47.3" class="r"><tspan style="font-family:NanumGothic,sans-serif" font-size="0.942em" dx="-0.0156em" stroke="#000" stroke-width="0.018em">1</tspan>252 cm<tspan font-size="0.70em" dy="-0.6em">-<tspan style="font-family:NanumGothic,sans-serif" font-size="0.942em" dx="-0.0156em" stroke="#000" stroke-width="0.018em">1</tspan></tspan></text>
<text transform="translate(957.1,754.0) rotate(-90) scale(1,1.03)" font-size="47.3" class="r"><tspan style="font-family:NanumGothic,sans-serif" font-size="0.942em" dx="-0.0156em" stroke="#000" stroke-width="0.018em">1</tspan>728 cm<tspan font-size="0.70em" dy="-0.6em">-<tspan style="font-family:NanumGothic,sans-serif" font-size="0.942em" dx="-0.0156em" stroke="#000" stroke-width="0.018em">1</tspan></tspan></text>
<text transform="translate(1034.6,966.6) rotate(-90) scale(1,1.03)" font-size="47.3" class="r"><tspan style="font-family:NanumGothic,sans-serif" font-size="0.942em" dx="-0.0156em" stroke="#000" stroke-width="0.018em">1</tspan>663 cm<tspan font-size="0.70em" dy="-0.6em">-<tspan style="font-family:NanumGothic,sans-serif" font-size="0.942em" dx="-0.0156em" stroke="#000" stroke-width="0.018em">1</tspan></tspan></text>
<text transform="translate(765.8,1291.4) rotate(-90) scale(1,1.03)" font-size="47.3" class="r">2360 cm<tspan font-size="0.70em" dy="-0.6em">-<tspan style="font-family:NanumGothic,sans-serif" font-size="0.942em" dx="-0.0156em" stroke="#000" stroke-width="0.018em">1</tspan></tspan></text>
<text transform="translate(1632.1,847.5) rotate(-90) scale(1,1.03)" font-size="47.3" class="r">644 cm<tspan font-size="0.70em" dy="-0.6em">-<tspan style="font-family:NanumGothic,sans-serif" font-size="0.942em" dx="-0.0156em" stroke="#000" stroke-width="0.018em">1</tspan></tspan></text>
<text transform="translate(1707.5,826.7) rotate(-90) scale(1,1.03)" font-size="47.3" class="r">580 cm<tspan font-size="0.70em" dy="-0.6em">-<tspan style="font-family:NanumGothic,sans-serif" font-size="0.942em" dx="-0.0156em" stroke="#000" stroke-width="0.018em">1</tspan></tspan></text>
<text transform="translate(809.8,513.7) rotate(-90) scale(1,1.0)" font-size="53.7" class="bi">Atmospheric CO<tspan font-size="0.69em" dy="0.345em">2</tspan></text>
<text transform="translate(1142.1,1220.9) rotate(-90) scale(1,1.0)" font-size="53.16" class="bi">Asymmetric stretching</text>
<text transform="translate(1217.0,1218.6) rotate(-90) scale(1,1.0)" font-size="51.95" class="bi">(-COO<tspan font-size="0.66em" dy="-0.58em">-</tspan><tspan dy="0.38em">)</tspan></text>
<text transform="translate(1290.7,1274.5) rotate(-90) scale(1,1.0)" font-size="53.11" class="bi">Symmetric stretching (-COO<tspan font-size="0.66em" dy="-0.58em">-</tspan><tspan dy="0.38em">)</tspan></text>
<text transform="translate(490.3,1273.7) rotate(-90) scale(1,1.0)" font-size="53.35" class="bi">Asymm. &amp; Symm. stretching</text>
<text transform="translate(558.0,1272.3) rotate(-90) scale(1,1.0)" font-size="52.26" class="bi">(-CH<tspan font-size="0.70em" dy="0.33em">2</tspan><tspan dy="-0.231em">-)</tspan></text>
<text transform="translate(1678.6,1264.2) rotate(-90) scale(1,1.0)" font-size="53.42" class="bi">M-O stretching</text>
<text transform="translate(114.9,1109.0) rotate(-90) scale(1,1.0)" font-size="95.4" class="r">Transmittance (a.u.)</text>
<text transform="translate(882.4,392.5)" font-size="41.63" class="ci">bidentate</text>
<text transform="translate(882.4,445.2)" font-size="41.6" class="ci">coordination</text>
<text transform="translate(861.2,1142.1)" font-size="41.53" class="ci">monodentate</text>
<text transform="translate(861.2,1192.2)" font-size="41.53" class="ci">coordination</text>
<text transform="translate(538.4,1557.6)" font-size="95.24" class="r">Wavenumber (cm<tspan font-size="0.67em" dy="-0.58em">-<tspan style="font-family:NanumGothic,sans-serif" font-size="0.942em" dx="-0.0156em" stroke="#000" stroke-width="0.018em">1</tspan></tspan><tspan dy="0.39em">)</tspan></text>
<line x1="419" y1="371.9" x2="453.8" y2="460.4" stroke="#000" stroke-width="5.5"/>
<line x1="500.7" y1="388.7" x2="500.7" y2="463.6" stroke="#000" stroke-width="5.5"/>
<line x1="767.1" y1="1024" x2="767.1" y2="1099" stroke="#000" stroke-width="5.5"/>
<line x1="979.3" y1="598.5" x2="1086.2" y2="510.4" stroke="#000" stroke-width="5.5"/>
<line x1="1031" y1="762.6" x2="1122.7" y2="508.9" stroke="#000" stroke-width="5.5"/>
<line x1="1133.3" y1="327" x2="1159.5" y2="508" stroke="#000" stroke-width="5.5"/>
<line x1="1264" y1="385.6" x2="1264" y2="461.2" stroke="#000" stroke-width="5.5"/>
<line x1="1345.5" y1="383.3" x2="1345.5" y2="457.8" stroke="#000" stroke-width="5.5"/>
<line x1="1626" y1="678.7" x2="1657.7" y2="607.3" stroke="#000" stroke-width="5.5"/>
<line x1="1688.1" y1="568.1" x2="1688.1" y2="643" stroke="#000" stroke-width="5.5"/>
<text transform="translate(893.97,234.9) scale(0.2764,0.2986)" font-size="100" class="chem" fill="#dc7438">Fe</text>
<text transform="translate(956.51,238.17) scale(0.3229,0.331)" font-size="100" class="chem" fill="#12b4e2">O</text>
<text transform="translate(1004.42,262.48) scale(0.2708,0.3183)" font-size="100" class="chem" fill="#d0a22e">C</text>
<text transform="translate(1068.94,262.8) scale(0.2651,0.3029)" font-size="100" class="chem" fill="#111111">R</text>
<text transform="translate(893.97,286.7) scale(0.2764,0.2986)" font-size="100" class="chem" fill="#dc7438">Fe</text>
<text transform="translate(959.91,288.38) scale(0.3229,0.3183)" font-size="100" class="chem" fill="#12b4e2">O</text>
<text transform="translate(945.53,1019.07) scale(0.3171,0.3324)" font-size="100" class="chem" fill="#12b4e2">O</text>
<text transform="translate(993.65,1044.18) scale(0.2877,0.3225)" font-size="100" class="chem" fill="#d0a22e">C</text>
<text transform="translate(1061.87,1043.8) scale(0.2619,0.3014)" font-size="100" class="chem" fill="#111111">R</text>
<text transform="translate(880.31,1069.28) scale(0.284,0.3171)" font-size="100" class="chem" fill="#dc7438">Fe</text>
<text transform="translate(948.43,1069.98) scale(0.3171,0.3225)" font-size="100" class="chem" fill="#12b4e2">O</text>
<line x1="930" y1="226.8" x2="955.3" y2="226.8" stroke="#5e5e5e" stroke-width="2.2"/>
<line x1="981.3" y1="230.2" x2="1003.9" y2="246.9" stroke="#5e5e5e" stroke-width="2.2"/>
<line x1="1023" y1="251.1" x2="1067.5" y2="251.1" stroke="#5e5e5e" stroke-width="2.2"/>
<line x1="929" y1="278.7" x2="959" y2="278.7" stroke="#5e5e5e" stroke-width="2.2"/>
<line x1="984.6" y1="275.3" x2="1003.9" y2="256.1" stroke="#5e5e5e" stroke-width="2.2"/>
<line x1="969" y1="1013.7" x2="993.4" y2="1029.5" stroke="#5e5e5e" stroke-width="4"/>
<line x1="1013.5" y1="1033" x2="1059.4" y2="1033" stroke="#5e5e5e" stroke-width="2.2"/>
<line x1="916" y1="1061" x2="945.4" y2="1061" stroke="#5e5e5e" stroke-width="2.2"/>
<line x1="973.3" y1="1056" x2="993.4" y2="1038.1" stroke="#5e5e5e" stroke-width="2.2"/>
</svg>
</body></html>
